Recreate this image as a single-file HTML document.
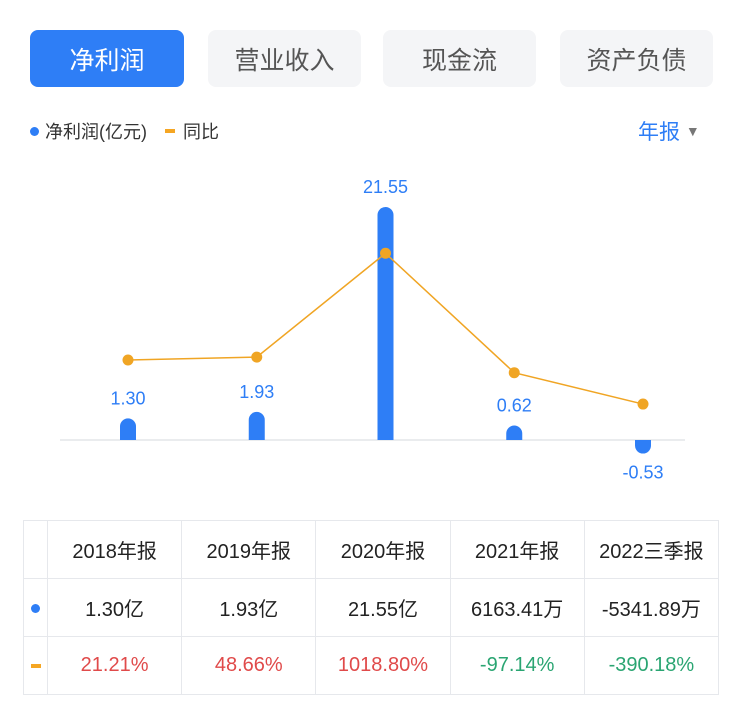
<!DOCTYPE html>
<html><head><meta charset="utf-8"><style>
body{margin:0;width:741px;height:720px;background:#fff;font-family:"Liberation Sans","Noto Sans CJK SC",sans-serif;position:relative;overflow:hidden}
.tab{position:absolute;top:30px;height:57px;width:153px;border-radius:8px;background:#f4f5f7;color:#555;font-size:25px;display:flex;align-items:center;justify-content:center}
.tab.on{background:#2e7ef6;color:#fff}
table{position:absolute;left:23px;top:520px;border-collapse:collapse;width:696px;table-layout:fixed}
td{border:1px solid #e6e8ec;text-align:center;font-size:20px;color:#222;height:57px;padding:0;white-space:nowrap}
</style></head><body>
<div class="tab on" style="left:30px;width:154px">净利润</div>
<div class="tab" style="left:208px">营业收入</div>
<div class="tab" style="left:383px">现金流</div>
<div class="tab" style="left:560px">资产负债</div>
<div style="position:absolute;left:30px;top:118px;font-size:18px;color:#333;display:flex;align-items:center">
<span style="width:9px;height:9px;border-radius:50%;background:#2e7ef6;display:inline-block;margin-right:6px"></span>净利润(亿元)
<span style="width:10px;height:4px;background:#f5a623;display:inline-block;margin:0 8px 0 18px"></span>同比</div>
<div style="position:absolute;left:638px;top:116px;font-size:21px;color:#2e7ef6">年报 <span style="color:#777;font-size:14px;vertical-align:3px">▼</span></div>
<svg id="chart" width="741" height="500" style="position:absolute;left:0;top:0"></svg>
<table>
<colgroup><col style="width:24px"><col><col><col><col><col></colgroup>
<tr><td></td><td>2018年报</td><td>2019年报</td><td>2020年报</td><td>2021年报</td><td>2022三季报</td></tr>
<tr><td><span style="display:inline-block;width:9px;height:9px;border-radius:50%;background:#2e7ef6"></span></td><td>1.30亿</td><td>1.93亿</td><td>21.55亿</td><td>6163.41万</td><td>-5341.89万</td></tr>
<tr><td><span style="display:inline-block;width:10px;height:4px;background:#f5a623;vertical-align:middle"></span></td><td style="color:#e04a4a">21.21%</td><td style="color:#e04a4a">48.66%</td><td style="color:#e04a4a">1018.80%</td><td style="color:#2aa572">-97.14%</td><td style="color:#2aa572">-390.18%</td></tr>
</table>
<script>
const categories=["2018年报","2019年报","2020年报","2021年报","2022三季报"];
const profit=[1.30,1.93,21.55,0.62,-0.53];
const profitLabels=["1.30","1.93","21.55","0.62","-0.53"];
const yoy=[21.21,48.66,1018.80,-97.14,-390.18];
const svg=document.getElementById('chart');
const NS="http://www.w3.org/2000/svg";
const base=440;
function xPos(i){return 128+i*128.75;}
function barLen(v){return Math.abs(v)*10.44+8;}
function yLine(v){return 362.3-0.107*v;}
function mk(t,a){const e=document.createElementNS(NS,t);for(const k in a)e.setAttribute(k,a[k]);svg.appendChild(e);return e;}
const ax=mk('line',{x1:60,x2:685,y1:base,y2:base,stroke:'#e3e5e8','stroke-width':1.5});


profit.forEach((v,i)=>{
 const x=xPos(i),h=barLen(v);
 let d;
 if(v>=0){const t=base-h;d=`M${x-8},${base}V${t+8}A8,8 0 0 1 ${x+8},${t+8}V${base}Z`;}
 else{const b=base+h;d=`M${x-8},${base}V${b-8}A8,8 0 0 0 ${x+8},${b-8}V${base}Z`;}
 const p=mk('path',{d:d,fill:'#2e7ef6'});
 
 
 const ty=v>=0?base-h-14:base+h+25;
 const t=mk('text',{x:x,y:ty,'text-anchor':'middle','font-size':18,fill:'#2e7ef6','font-family':'Liberation Sans'});
 t.textContent=profitLabels[i];
 
 
});
const pl=mk('polyline',{points:yoy.map((v,i)=>xPos(i)+','+yLine(v)).join(' '),fill:'none',stroke:'#f0a524','stroke-width':1.5});


yoy.forEach((v,i)=>{
 const c=mk('circle',{cx:xPos(i),cy:yLine(v),r:5.5,fill:'#f0a524'});
 
 
});
</script>
</body></html>
